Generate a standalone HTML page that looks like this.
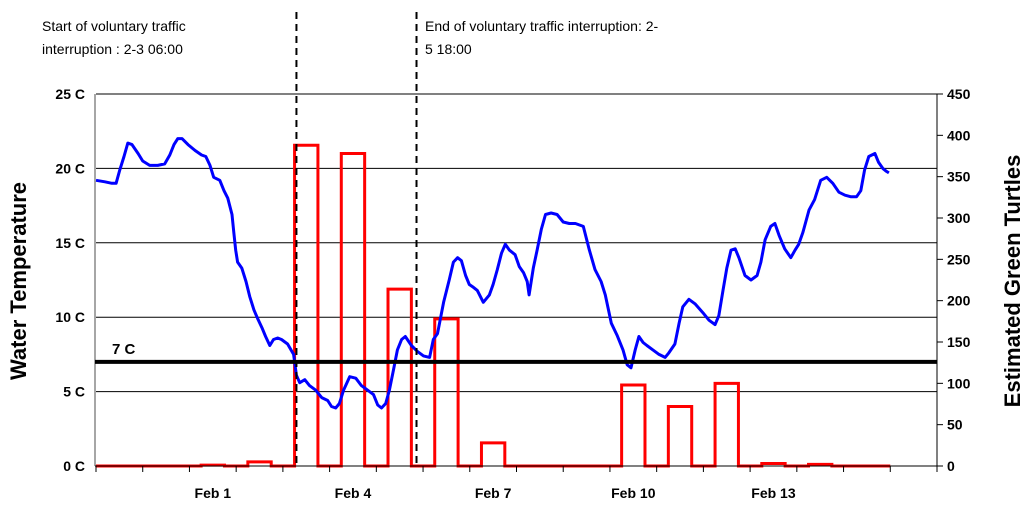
<!DOCTYPE html>
<html><head><meta charset="utf-8"><style>
body{margin:0;background:#fff;}
svg{display:block;font-family:"Liberation Sans",Arial,sans-serif;}
</style></head><body>
<svg id="chart" width="1024" height="508" viewBox="0 0 1024 508" xmlns="http://www.w3.org/2000/svg">
<g id="grid"></g>
<g id="bars"></g>
<g id="temp"></g>
<g id="axes"></g>
<g id="ann"></g>
<text transform="translate(26,281) rotate(-90)" text-anchor="middle" font-size="22" font-weight="bold">Water Temperature</text>
<text transform="translate(1020,281) rotate(-90)" text-anchor="middle" font-size="22" font-weight="bold">Estimated Green Turtles</text>
</svg>
<script>
const categories=["Jan 30","Jan 31","Feb 1","Feb 2","Feb 3","Feb 4","Feb 5","Feb 6","Feb 7","Feb 8","Feb 9","Feb 10","Feb 11","Feb 12","Feb 13","Feb 14","Feb 15","Feb 16"];
const turtleCounts=[0,0,1,5,388,378,214,178,28,0,0,98,72,100,3,2,0];
const tempDays=[0.00,0.19,0.34,0.43,0.51,0.60,0.68,0.77,0.90,1.00,1.15,1.32,1.47,1.58,1.67,1.75,1.84,1.97,2.12,2.26,2.35,2.44,2.52,2.65,2.74,2.82,2.91,2.95,2.99,3.03,3.12,3.21,3.29,3.38,3.46,3.55,3.63,3.72,3.80,3.89,3.97,4.10,4.23,4.29,4.36,4.47,4.57,4.70,4.83,4.96,5.04,5.13,5.21,5.30,5.43,5.56,5.68,5.81,5.94,6.03,6.11,6.20,6.28,6.37,6.45,6.54,6.62,6.75,6.88,7.01,7.14,7.22,7.31,7.44,7.56,7.65,7.74,7.82,7.91,7.99,8.08,8.16,8.29,8.42,8.50,8.59,8.68,8.76,8.85,8.97,9.06,9.15,9.23,9.27,9.36,9.44,9.53,9.62,9.74,9.87,10.00,10.13,10.26,10.43,10.56,10.68,10.81,10.90,11.03,11.15,11.28,11.37,11.45,11.54,11.62,11.71,11.79,11.92,12.05,12.18,12.26,12.39,12.48,12.56,12.69,12.82,12.99,13.12,13.25,13.33,13.42,13.50,13.59,13.68,13.76,13.89,14.02,14.15,14.23,14.32,14.44,14.53,14.62,14.74,14.87,14.96,15.04,15.13,15.26,15.38,15.51,15.64,15.77,15.90,16.03,16.15,16.28,16.37,16.45,16.54,16.67,16.75,16.84,16.92,16.97];
const tempValues=[19.2,19.1,19.0,19.0,19.9,20.8,21.7,21.6,21.0,20.5,20.2,20.2,20.3,20.9,21.6,22.0,22.0,21.6,21.2,20.9,20.8,20.2,19.4,19.2,18.5,18.0,16.9,15.7,14.5,13.7,13.3,12.4,11.4,10.5,9.9,9.3,8.7,8.1,8.5,8.6,8.5,8.2,7.5,6.1,5.6,5.8,5.4,5.1,4.6,4.4,4.0,3.9,4.2,5.1,6.0,5.9,5.4,5.1,4.8,4.1,3.9,4.2,5.1,6.5,7.8,8.5,8.7,8.1,7.7,7.4,7.3,8.5,8.9,11.0,12.5,13.7,14.0,13.8,12.8,12.2,12.0,11.8,11.0,11.5,12.2,13.2,14.3,14.9,14.5,14.2,13.4,13.0,12.4,11.5,13.3,14.5,15.9,16.9,17.0,16.9,16.4,16.3,16.3,16.1,14.5,13.2,12.4,11.5,9.6,8.8,7.8,6.8,6.6,7.8,8.7,8.3,8.1,7.8,7.5,7.3,7.6,8.2,9.6,10.7,11.2,10.9,10.3,9.8,9.5,10.1,11.8,13.3,14.5,14.6,14.0,12.8,12.5,12.8,13.7,15.2,16.1,16.3,15.5,14.6,14.0,14.5,14.9,15.7,17.2,17.9,19.2,19.4,19.0,18.4,18.2,18.1,18.1,18.5,19.9,20.8,21.0,20.4,20.0,19.8,19.7];
const leftTicks=[0,5,10,15,20,25];
const rightTicks=[0,50,100,150,200,250,300,350,400,450];
const labeledCategories=["Feb 1","Feb 4","Feb 7","Feb 10","Feb 13"];
const thresholdTemp=7;
const eventDays=[4.29,6.86];

const NS="http://www.w3.org/2000/svg";
const X0=96,X1=937,Y0=466,Y1=94,DAY=(X1-X0)/categories.length;
const xDay=d=>X0+d*DAY;
const yT=v=>Y0-(v/25)*(Y0-Y1);
const yN=v=>Y0-(v/450)*(Y0-Y1);
function mk(tag,parent,attrs){const e=document.createElementNS(NS,tag);for(const k in attrs)e.setAttribute(k,attrs[k]);parent.appendChild(e);return e;}
const grid=document.getElementById('grid'),bars=document.getElementById('bars'),temp=document.getElementById('temp'),axes=document.getElementById('axes'),ann=document.getElementById('ann');

leftTicks.forEach(v=>{
  if(v>0){const l=mk('line',grid,{x1:X0,x2:X1,y1:yT(v),y2:yT(v),stroke:'#000','stroke-width':1});
  
  }
  const t=mk('text',axes,{x:85,y:yT(v)+5,'text-anchor':'end','font-size':14,'font-weight':'bold'});
  t.textContent=v+' C';
  
  
});
rightTicks.forEach(v=>{
  const tk=mk('line',axes,{x1:X1,x2:X1+6,y1:yN(v),y2:yN(v),stroke:'#000'});
  
  
  const t=mk('text',axes,{x:947,y:yN(v)+5,'font-size':14,'font-weight':'bold'});
  t.textContent=v;
  
  
});
const la=mk('line',axes,{x1:X0-1,x2:X0-1,y1:Y1,y2:Y0,stroke:'#888','stroke-width':1.5});


const ra=mk('line',axes,{x1:X1,x2:X1,y1:Y1,y2:Y0+6,stroke:'#000'});


const xa=mk('line',axes,{x1:X0-1,x2:X1,y1:Y0,y2:Y0,stroke:'#000'});


for(let i=0;i<=categories.length;i++){
  const tk=mk('line',axes,{x1:xDay(i),x2:xDay(i),y1:Y0,y2:Y0+6,stroke:'#000'});
  
  
}
categories.forEach((c,i)=>{
  if(labeledCategories.indexOf(c)<0)return;
  const t=mk('text',axes,{x:xDay(i+0.5),y:498,'text-anchor':'middle','font-size':14,'font-weight':'bold'});
  t.textContent=c;
  
  
});

let d='M'+xDay(0)+','+Y0;
turtleCounts.forEach((v,i)=>{
  const c=xDay(i+0.5),w=DAY*0.25;
  d+=' L'+(c-w)+','+Y0+' L'+(c-w)+','+yN(v)+' L'+(c+w)+','+yN(v)+' L'+(c+w)+','+Y0;
});
d+=' L'+xDay(turtleCounts.length)+','+Y0;
const bp=mk('path',bars,{d:d,fill:'none',stroke:'#ff0000','stroke-width':3,'stroke-linejoin':'miter'});



const pts=tempDays.map((t,i)=>xDay(t).toFixed(1)+','+yT(tempValues[i]).toFixed(1)).join(' ');
const tl=mk('polyline',temp,{points:pts,fill:'none',stroke:'#0000ff','stroke-width':3,'stroke-linejoin':'round'});



const th=mk('line',ann,{x1:X0-1,x2:X1,y1:yT(thresholdTemp),y2:yT(thresholdTemp),stroke:'#000','stroke-width':4});


const tht=mk('text',ann,{x:112,y:yT(thresholdTemp)-8,'font-size':15,'font-weight':'bold'});
tht.textContent=thresholdTemp+' C';


eventDays.forEach(e=>{
  const l=mk('line',ann,{x1:xDay(e),x2:xDay(e),y1:12,y2:Y0,stroke:'#000','stroke-width':2,'stroke-dasharray':'7,5'});
  
  
});
const lines=[[42,31,'Start of voluntary traffic'],[42,54,'interruption : 2-3 06:00'],[425,31,'End of voluntary traffic interruption: 2-'],[425,54,'5 18:00']];
lines.forEach(a=>{
  const t=mk('text',ann,{x:a[0],y:a[1],'font-size':14});
  t.textContent=a[2];
  
  
});
</script>
</body></html>
